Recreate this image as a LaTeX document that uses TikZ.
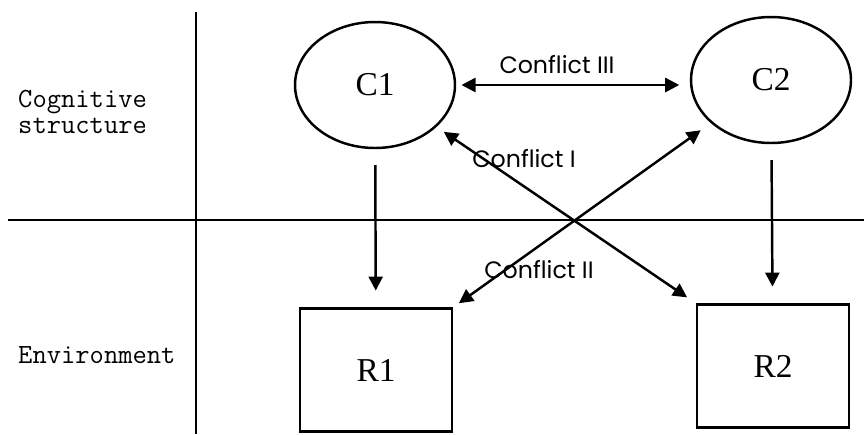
\documentclass[tikz,border=0pt]{standalone}
\usepackage{fontspec}
\newfontfamily\boxfont{Liberation Serif}
\newfontfamily\labelfont{Poppins}
\usetikzlibrary{arrows.meta,shapes.geometric}

\begin{document}
\begin{tikzpicture}[x=0.02cm, y=-0.02cm, line width=1.4pt,
    every node/.style={inner sep=0pt},
    cnode/.style={ellipse, draw, minimum width=3.2cm, minimum height=2.52cm, font=\boxfont\fontsize{19}{19}\selectfont},
    rnode/.style={rectangle, draw, minimum width=3.04cm, minimum height=2.46cm, font=\boxfont\fontsize{19}{19}\selectfont},
    side/.style={align=left, anchor=west, font=\ttfamily\fontsize{15.8}{15}\selectfont},
    clabel/.style={font=\labelfont\fontsize{13.5}{13.5}\selectfont},
    >={Triangle[length=8pt, width=8pt]}]
    \useasboundingbox (0,0) rectangle (864,434);
    % frame
    \draw (196,12) -- (196,434);
    \draw (8,220) -- (864,220);
    \node[side] (cog) at (17,112) {Cognitive\\structure};
    \node[side] (env) at (17,355) {Environment};
    % concepts and results
    \node[cnode] (C1) at (375,85) {C1};
    \node[cnode] (C2) at (771,80) {C2};
    \node[rnode] (R1) at (376,370) {R1};
    \node[rnode] (R2) at (773,366) {R2};
    \foreach \c/\r in {C1/R1, C2/R2} {
        \draw[->, shorten <=9pt, shorten >=9.5pt] (\c) -- (\r);
    }
    % conflicts
    \draw[<->, shorten <=3pt, shorten >=6pt] (C1.east) -- (C2.west |- C1.east);
    \draw[<->, shorten <=5pt, shorten >=6pt] (C1) -- (R2.north west);
    \draw[<->, shorten <=7pt, shorten >=4pt] (C2) -- (R1.north east);
    \node[clabel] (k3) at (557,65) {Conflict III};
    \node[clabel] (k1) at (524,159) {Conflict I};
    \node[clabel] (k2) at (539,270) {Conflict II};
\end{tikzpicture}
\end{document}
